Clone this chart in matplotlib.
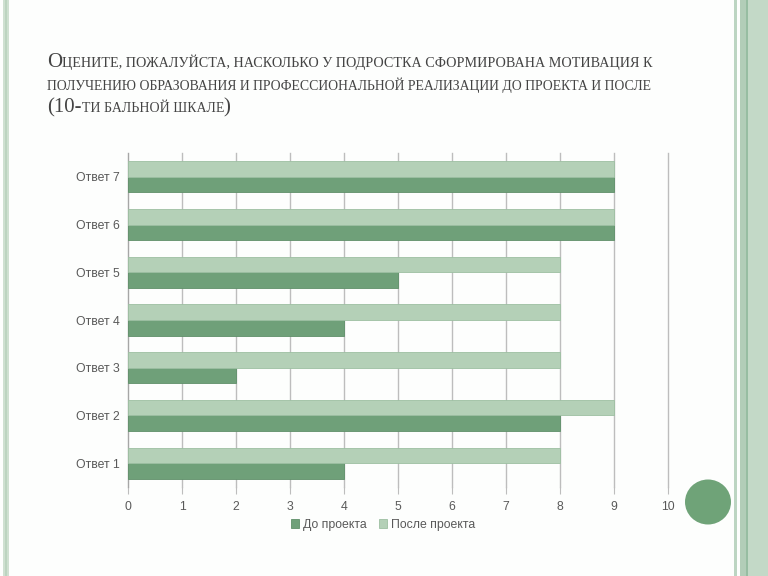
import numpy as np
import matplotlib
matplotlib.use("Agg")
import matplotlib.pyplot as plt
from matplotlib.patches import Rectangle, Ellipse

categories = ["Ответ 1", "Ответ 2", "Ответ 3", "Ответ 4", "Ответ 5", "Ответ 6", "Ответ 7"]
before = [4, 8, 2, 4, 5, 9, 9]
after = [8, 9, 8, 8, 8, 9, 9]
series_names = ["До проекта", "После проекта"]
x_ticks = list(range(0, 11))

# small caps title: (text, size) pieces per line
title_lines = [
    [("О", 15), ("ЦЕНИТЕ, ПОЖАЛУЙСТА, НАСКОЛЬКО У ПОДРОСТКА СФОРМИРОВАНА МОТИВАЦИЯ К", 10.2)],
    [("ПОЛУЧЕНИЮ ОБРАЗОВАНИЯ И ПРОФЕССИОНАЛЬНОЙ РЕАЛИЗАЦИИ ДО ПРОЕКТА И ПОСЛЕ", 9.9)],
    [("(10-", 15), ("ТИ БАЛЬНОЙ ШКАЛЕ", 10), (")", 15)],
]

W, H = 768, 576
dark = "#6fa079"
light = "#b4d0b7"
grid_c = "#bdbdbd"
text_c = "#595959"

fig = plt.figure(figsize=(W / 100, H / 100), dpi=100)
fig.patch.set_facecolor("#fdfefd")

def fx(px):
    return px / W

def fy(py):
    return 1 - py / H

# decorative stripes
def stripe(x0, x1, color):
    fig.add_artist(Rectangle((fx(x0), 0), fx(x1 - x0), 1, transform=fig.transFigure,
                             facecolor=color, edgecolor="none", zorder=0))

stripe(3, 9, "#cfe0d1")
stripe(5, 7, "#bcd4c0")
stripe(734, 737, "#bcd5c2")
stripe(740, 746, "#b2cdb8")
stripe(746, 748, "#97bda2")
stripe(748, 768, "#c3d9c7")

fig.add_artist(Ellipse((fx(708), fy(502)), fx(46), 45 / H, transform=fig.transFigure,
                       facecolor="#6fa378", edgecolor="none", zorder=1))

# title
renderer = fig.canvas.get_renderer()
baselines = [67, 90, 112]
for line, base in zip(title_lines, baselines):
    x = fx(47)
    for s, size in line:
        t = fig.text(x, fy(base), s, fontsize=size, family="Liberation Serif",
                     color="#444444", va="baseline", ha="left")
        bb = t.get_window_extent(renderer)
        x = bb.x1 / W

# chart
ax = fig.add_axes([fx(128), fy(487), fx(540), 334 / H])
ax.set_facecolor("none")
y = np.arange(len(categories))
h = 0.325
ax.barh(y - h / 2, before, height=h, color=dark, edgecolor="#5f8f69", linewidth=0.6,
        label=series_names[0], zorder=3)
ax.barh(y + h / 2, after, height=h, color=light, edgecolor="#9dbfa2",
        linewidth=0.6, label=series_names[1], zorder=3)

ax.set_xlim(0, 10)
ax.set_ylim(-0.5, len(categories) - 0.5)
ax.set_xticks(x_ticks)
ax.set_yticks(y)
ax.set_yticklabels(categories)
ax.xaxis.grid(True, color=grid_c, linewidth=1, zorder=0)
for gl in ax.get_xgridlines():
    gl.set_clip_on(False)
ax.tick_params(axis="x", length=5, color=grid_c, labelsize=8.8, labelcolor=text_c, pad=5)
ax.tick_params(axis="y", length=0, labelsize=8.8, labelcolor=text_c, pad=6)
for lab in ax.get_xticklabels() + ax.get_yticklabels():
    lab.set_family("Liberation Sans")
for side in ["top", "right", "bottom"]:
    ax.spines[side].set_visible(False)
ax.spines["left"].set_color("#a6a6a6")

leg = ax.legend(loc="center", bbox_to_anchor=(fx(383), fy(525)), bbox_transform=fig.transFigure,
                ncol=2, frameon=False, handlelength=0.7, handleheight=0.7, handletextpad=0.3,
                columnspacing=1.0, prop={"family": "Liberation Sans", "size": 8.8})
for t in leg.get_texts():
    t.set_color(text_c)

fig.savefig("out.png", dpi=100, facecolor=fig.get_facecolor())
